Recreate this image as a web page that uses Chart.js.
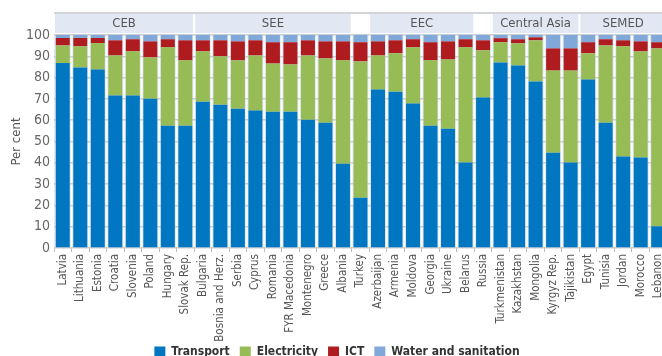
<!DOCTYPE html>
<html>
<head>
<meta charset="utf-8">
<script src="https://cdn.jsdelivr.net/npm/chart.js@4/dist/chart.umd.min.js"></script>
<style>
html,body{margin:0;padding:0;overflow:hidden;background:#fff;}
#clip{width:662px;height:356px;overflow:hidden;position:relative;}
#wrap{position:relative;width:674px;height:368px;}
</style>
</head>
<body>
<div id="clip"><div id="wrap"><canvas id="c"></canvas></div></div>
<script>
const categories = ['Latvia','Lithuania','Estonia','Croatia','Slovenia','Poland','Hungary','Slovak Rep.',
  'Bulgaria','Bosnia and Herz.','Serbia','Cyprus','Romania','FYR Macedonia','Montenegro','Greece','Albania',
  'Turkey','Azerbaijan','Armenia','Moldova','Georgia','Ukraine','Belarus','Russia',
  'Turkmenistan','Kazakhstan','Mongolia','Kyrgyz Rep.','Tajikistan',
  'Egypt','Tunisia','Jordan','Morocco','Lebanon'];
const transport = [86.8,84.8,83.8,71.6,71.6,70.1,57.4,57.4,
  68.7,67.3,65.4,64.5,64.0,64.0,60.2,58.8,39.6,
  23.6,74.4,73.4,67.8,57.4,56.0,40.1,70.6,
  87.1,85.7,78.2,44.7,40.1,
  79.1,58.8,42.9,42.5,10.2];
const electricity = [8.3,9.9,12.4,18.8,20.7,19.4,36.8,30.7,
  23.6,22.7,22.7,25.9,22.6,22.2,30.2,30.2,48.5,
  64.0,16.0,18.0,26.4,30.7,32.5,54.1,22.2,
  9.5,10.4,19.3,38.6,43.2,
  12.3,36.3,51.8,49.8,83.5];
const ict = [3.5,3.9,2.4,7.1,5.7,7.5,3.8,9.4,
  5.2,7.5,8.9,7.1,10.0,10.4,7.1,8.0,8.9,
  9.0,6.6,6.1,3.8,8.5,8.5,3.8,4.7,
  1.9,1.9,1.4,10.4,10.4,
  5.2,2.9,2.8,4.7,2.9];
const water = [1.4,1.4,1.4,2.5,2.0,3.0,2.0,2.5,
  2.5,2.5,3.0,2.5,3.4,3.4,2.5,3.0,3.0,
  3.4,3.0,2.5,2.0,3.4,3.0,2.0,2.5,
  1.5,2.0,1.1,6.3,6.3,
  3.4,2.0,2.5,3.0,3.4];
const seriesNames = ['Transport','Electricity','ICT','Water and sanitation'];
const seriesColors = ['#0077c0','#97bb55','#ae1c20','#80a8d8'];
const groupLabels = ['CEB','SEE','EEC','Central Asia','SEMED'];
const groupStart = [0,8,18,25,30];
const groupEnd = [7,16,23,29,34];
const yTicks = [0,10,20,30,40,50,60,70,80,90,100];

const FONT = "'Liberation Sans Narrow','DejaVu Sans Condensed','Roboto',sans-serif";

const bgPlugin = {
  id: 'bg',
  afterLayout(chart) {
    // let rotated x labels extend below the axis box instead of being clipped
    chart.scales.x.bottom = chart.scales.x.top + 110;
  },
  beforeDraw(chart) {
    const {ctx, chartArea: a, scales: {x}} = chart;
    ctx.save();
    ctx.fillStyle = '#e3e9f3';
    ctx.fillRect(a.left, a.top, a.right - a.left, a.bottom - a.top);
    ctx.strokeStyle = '#ffffff';
    ctx.lineWidth = 1.5;
    for (let i = 1; i < categories.length; i++) {
      const p = (x.getPixelForValue(i - 1) + x.getPixelForValue(i)) / 2;
      ctx.beginPath(); ctx.moveTo(p, a.top); ctx.lineTo(p, a.bottom); ctx.stroke();
    }
    const step = x.getPixelForValue(1) - x.getPixelForValue(0);
    const topY = 13;
    ctx.strokeStyle = '#c4c7cc';
    ctx.lineWidth = 1.5;
    ctx.beginPath(); ctx.moveTo(a.left, topY); ctx.lineTo(a.right, topY); ctx.stroke();
    for (let g = 0; g < groupLabels.length; g++) {
      const l = x.getPixelForValue(groupStart[g]) - step / 2;
      const r = x.getPixelForValue(groupEnd[g]) + step / 2;
      ctx.fillStyle = '#e1e8f3';
      ctx.fillRect(l + 1, topY + 1, r - l - 2, a.top - topY - 3);
      ctx.fillStyle = '#555555';
      ctx.font = '13px ' + FONT;
      ctx.textAlign = 'center';
      ctx.textBaseline = 'middle';
      ctx.fillText(groupLabels[g], (l + r) / 2, (topY + a.top) / 2);
    }
    ctx.restore();
  }
};

const datasets = [transport, electricity, ict, water].map((d, i) => ({
  label: seriesNames[i],
  data: d,
  backgroundColor: seriesColors[i],
  borderWidth: 0,
  barPercentage: 0.8,
  categoryPercentage: 1.0
}));

new Chart(document.getElementById('c'), {
  type: 'bar',
  data: { labels: categories, datasets },
  plugins: [bgPlugin],
  options: {
    responsive: true,
    maintainAspectRatio: false,
    animation: false,
    layout: { padding: { top: 35, right: 0, left: 0, bottom: 0 } },
    plugins: {
      tooltip: { enabled: false },
      legend: {
        position: 'bottom',
        labels: {
          boxWidth: 11, boxHeight: 11, padding: 10,
          color: '#333333',
          font: { family: FONT, size: 12, weight: 'bold' }
        }
      }
    },
    scales: {
      x: {
        stacked: true,
        afterFit(s) { s.height = 88; },
        grid: { offset: true, drawOnChartArea: false, tickLength: 4, tickColor: '#b8bcc2', drawTicks: true },
        border: { display: false },
        ticks: {
          autoSkip: false, maxRotation: 90, minRotation: 90,
          color: '#555555', padding: 2,
          font: { family: FONT, size: 11.5 }
        }
      },
      y: {
        stacked: true,
        min: 0, max: 100,
        afterBuildTicks(s) { s.ticks = yTicks.map(v => ({ value: v })); },
        afterFit(s) { s.width = 54; },
        grid: { color: '#c9cdd4', lineWidth: 1.5, drawTicks: false },
        border: { display: false },
        ticks: { autoSkip: false, color: '#666666', padding: 4, font: { family: FONT, size: 14 } },
        title: { display: true, text: 'Per cent', color: '#555555', padding: 9, font: { family: FONT, size: 13 } }
      }
    }
  }
});
</script>
</body>
</html>
